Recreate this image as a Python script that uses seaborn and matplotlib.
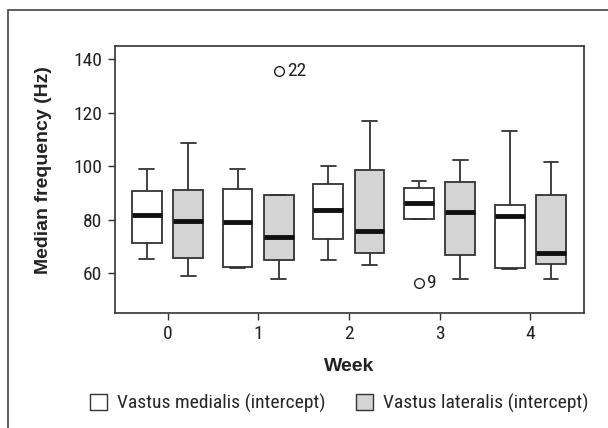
import numpy as np
import pandas as pd
import matplotlib
matplotlib.use("Agg")
import matplotlib.pyplot as plt
import seaborn as sns
from matplotlib.patches import Rectangle, Patch

# ---- data ----
weeks = ["0", "1", "2", "3", "4"]
muscles = ["Vastus medialis (intercept)", "Vastus lateralis (intercept)"]

med_whislo = [65.4, 62.2, 65.1, 80.3, 61.5]
med_q1 = [71.3, 62.5, 72.9, 80.4, 62.1]
med_median = [81.9, 79.1, 83.7, 86.3, 81.5]
med_q3 = [90.8, 91.6, 93.3, 91.7, 85.7]
med_whishi = [99.0, 98.9, 100.0, 94.3, 113.2]

lat_whislo = [58.9, 58.0, 63.1, 57.8, 58.0]
lat_q1 = [65.6, 65.1, 67.5, 66.8, 63.6]
lat_median = [79.5, 73.7, 75.9, 83.0, 67.8]
lat_q3 = [91.2, 89.1, 98.5, 94.0, 89.3]
lat_whishi = [108.6, 89.3, 116.7, 102.2, 101.6]

outlier_muscle = [0, 1]
outlier_week = [3, 1]
outlier_value = [56.6, 135.6]
outlier_label = ["9", "22"]

# ---- build samples whose box statistics equal the values above ----
stats = [
    (med_whislo, med_q1, med_median, med_q3, med_whishi),
    (lat_whislo, lat_q1, lat_median, lat_q3, lat_whishi),
]
rows = []
for m, (lo, q1, md, q3, hi) in enumerate(stats):
    for w in range(len(weeks)):
        pts = [lo[w], lo[w], q1[w], q1[w], md[w], q3[w], q3[w], hi[w], hi[w]]
        for om, ow, ov in zip(outlier_muscle, outlier_week, outlier_value):
            if om == m and ow == w:
                if ov < lo[w]:
                    pts[0] = ov
                else:
                    pts[-1] = ov
        for p in pts:
            rows.append({"Week": weeks[w], "Muscle": muscles[m], "Value": p})
df = pd.DataFrame(rows)

sns.set_theme(style="ticks")
narrow = ["Roboto Condensed", "DejaVu Sans"]
plt.rcParams["font.family"] = ["Liberation Sans", "DejaVu Sans"]

fig = plt.figure(figsize=(6.08, 4.28), dpi=100)
ax = fig.add_axes([0.189, 0.269, 0.772, 0.624])

edge = "#333333"
box_width = 0.91
sns.boxplot(
    data=df, x="Week", y="Value", hue="Muscle", order=weeks, hue_order=muscles,
    palette=["white", "#d4d4d4"], width=box_width, gap=0.28, whis=1.5,
    linecolor=edge, linewidth=1.3, legend=False, ax=ax,
    medianprops=dict(color="#111111", linewidth=3.5),
    flierprops=dict(marker="o", markerfacecolor="none", markeredgecolor="#222222",
                    markersize=7, markeredgewidth=1.0),
)

# outlier labels
for om, ow, ov, ol in zip(outlier_muscle, outlier_week, outlier_value, outlier_label):
    xpos = ow + (box_width / 4) * (1 if om == 1 else -1)
    ax.annotate(ol, (xpos, ov), xytext=(6, 0), textcoords="offset points",
                ha="left", va="center", fontsize=14, family=narrow, color="#222222")

ax.set_xlim(-0.58, 4.595)
ax.set_ylim(45.3, 144.9)
ax.set_yticks([60, 80, 100, 120, 140])
ax.tick_params(axis="both", direction="out", length=5, width=1.0, color=edge,
               labelsize=14, labelcolor="#222222", pad=4)
for lab in ax.get_xticklabels() + ax.get_yticklabels():
    lab.set_family(narrow)
for s in ax.spines.values():
    s.set_visible(True)
    s.set_color(edge)
    s.set_linewidth(1.2)

ax.set_xlabel("Week", fontsize=14, fontweight="bold", color="#222222")
ax.set_ylabel("Median frequency (Hz)", fontsize=14, fontweight="bold", color="#222222")
ax.xaxis.set_label_coords(0.5, -0.17)
ax.yaxis.set_label_coords(-0.135, 0.534)

handles = [Patch(facecolor="white", edgecolor=edge, linewidth=1.0),
           Patch(facecolor="#d4d4d4", edgecolor=edge, linewidth=1.0)]
fig.legend(handles, muscles, loc="center", bbox_to_anchor=(0.558, 0.058), ncol=2,
           frameon=False, prop={"family": narrow, "size": 14},
           handlelength=0.85, handleheight=0.85, handletextpad=0.5, columnspacing=1.6)

# outer frame (cut at right/bottom like the reference)
fig.add_artist(Rectangle((8 / 608, -0.05), 1.1, 1 - 10 / 428 + 0.05,
                         transform=fig.transFigure, fill=False,
                         edgecolor="#444444", linewidth=1.2))

fig.savefig("out.png", dpi=100)
